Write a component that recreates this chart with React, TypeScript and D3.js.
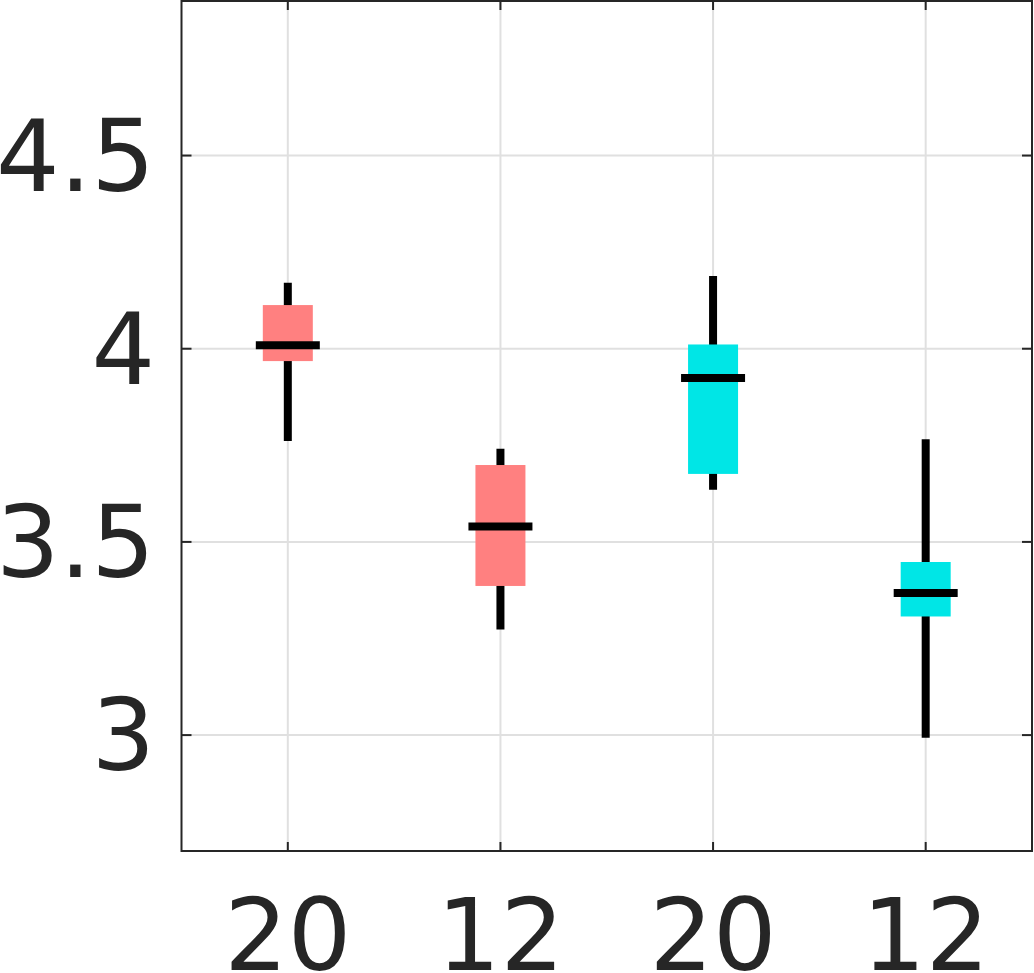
import React from "react";
import * as d3 from "d3";

const categories = ["20", "12", "20", "12"];
const groupColors = ["#ff8080", "#ff8080", "#00e6e6", "#00e6e6"];
const whiskerLow = [3.761, 3.273, 3.635, 2.993];
const boxLow = [3.968, 3.386, 3.676, 3.307];
const medians = [4.009, 3.54, 3.924, 3.368];
const boxHigh = [4.113, 3.699, 4.011, 3.448];
const whiskerHigh = [4.171, 3.741, 4.188, 3.766];
const yTicks = [3, 3.5, 4, 4.5];
const yTickLabels = ["3", "3.5", "4", "4.5"];

const W = 1034;
const H = 973;
const left = 181.5;
const right = 1032;
const top = 1;
const bottom = 851;

export default function App() {
  const ids = categories.map((_, i) => String(i));
  const x = d3.scalePoint<string>().domain(ids).range([left, right]).padding(0.5);
  const y = d3.scaleLinear().domain([2.7, 4.9]).range([bottom, top]);
  const axisColor = "#262626";
  const font = "DejaVu Sans";

  return (
    <svg
      width={W}
      height={H}
      style={{ position: "absolute", left: 0, top: 0, display: "block" }}
    >
      <rect x={0} y={0} width={W} height={H} fill="#fff" />
      {/* grid */}
      {yTicks.map((t) => (
        <line key={"gy" + t} x1={left} x2={right} y1={y(t)} y2={y(t)} stroke="#e0e0e0" strokeWidth={2} />
      ))}
      {ids.map((id) => (
        <line key={"gx" + id} x1={x(id)} x2={x(id)} y1={top} y2={bottom} stroke="#e0e0e0" strokeWidth={2} />
      ))}
      {/* boxes */}
      {ids.map((id, i) => {
        const cx = x(id)!;
        return (
          <g key={"b" + id}>
            <line x1={cx} x2={cx} y1={y(whiskerHigh[i])} y2={y(whiskerLow[i])} stroke="#000" strokeWidth={8} />
            <rect
              x={cx - 25}
              width={50}
              y={y(boxHigh[i])}
              height={y(boxLow[i]) - y(boxHigh[i])}
              fill={groupColors[i]}
            />
            <line x1={cx - 32} x2={cx + 32} y1={y(medians[i])} y2={y(medians[i])} stroke="#000" strokeWidth={8} />
          </g>
        );
      })}
      {/* axes box */}
      <rect x={left} y={top} width={right - left} height={bottom - top} fill="none" stroke={axisColor} strokeWidth={2} />
      {/* ticks */}
      {yTicks.map((t) => (
        <g key={"ty" + t}>
          <line x1={left} x2={left + 10} y1={y(t)} y2={y(t)} stroke={axisColor} strokeWidth={2} />
          <line x1={right - 10} x2={right} y1={y(t)} y2={y(t)} stroke={axisColor} strokeWidth={2} />
        </g>
      ))}
      {ids.map((id) => (
        <g key={"tx" + id}>
          <line x1={x(id)} x2={x(id)} y1={bottom} y2={bottom - 9} stroke={axisColor} strokeWidth={2} />
          <line x1={x(id)} x2={x(id)} y1={top} y2={top + 9} stroke={axisColor} strokeWidth={2} />
        </g>
      ))}
      {/* labels */}
      {yTicks.map((t, i) => (
        <text
          key={"ly" + t}
          x={155}
          y={y(t) + 35}
          textAnchor="end"
          fontFamily={font}
          fontSize={100}
          fill={axisColor}
        >
          {yTickLabels[i]}
        </text>
      ))}
      {ids.map((id, i) => (
        <text
          key={"lx" + id}
          x={x(id)}
          y={970}
          textAnchor="middle"
          fontFamily={font}
          fontSize={100}
          fill={axisColor}
        >
          {categories[i]}
        </text>
      ))}
    </svg>
  );
}
